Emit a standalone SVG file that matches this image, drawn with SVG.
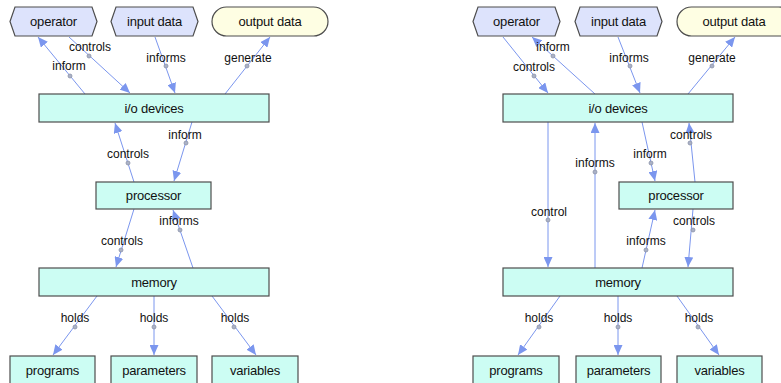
<svg xmlns="http://www.w3.org/2000/svg" width="781" height="383" viewBox="0 0 781 383">
  <style>
    text { font-family: "Liberation Sans", Arial, sans-serif; font-size: 12px; fill: #111; text-anchor: middle; }
    .node text { font-size: 13px; letter-spacing: -0.2px; }
    .box { fill: #ccfdf3; stroke: #4d4d4d; stroke-width: 1.2; }
    .hex { fill: #dde3fc; stroke: #4d4d4d; stroke-width: 1.2; }
    .out { fill: #fefee3; stroke: #4d4d4d; stroke-width: 1.2; }
    .edge { stroke: #7b96ee; stroke-width: 1; fill: none; marker-end: url(#arrow); }
    .dot { fill: #aab1c6; stroke: #8c93aa; stroke-width: 0.8; }
  </style>
  <defs>
    <marker id="arrow" markerUnits="userSpaceOnUse" markerWidth="11" markerHeight="9" refX="10" refY="4.5" orient="auto">
      <path d="M0,0 L10,4.5 L0,9 Z" fill="#7b96ee"/>
    </marker>
  </defs>

  <rect width="781" height="383" fill="#ffffff"/>

  <!-- connectors -->
  <g id="connectors">
    <!-- first layout -->
    <line class="edge" x1="85" y1="94" x2="38" y2="37"/>
    <line class="edge" x1="69" y1="37" x2="130" y2="93"/>
    <line class="edge" x1="155" y1="37" x2="175" y2="93"/>
    <line class="edge" x1="225" y1="94" x2="270" y2="37"/>
    <line class="edge" x1="134" y1="182" x2="115" y2="123"/>
    <line class="edge" x1="192" y1="122" x2="174" y2="181"/>
    <line class="edge" x1="134" y1="209" x2="116" y2="267"/>
    <line class="edge" x1="193" y1="268" x2="173" y2="210"/>
    <line class="edge" x1="97" y1="296" x2="53" y2="355"/>
    <line class="edge" x1="154" y1="296" x2="154" y2="355"/>
    <line class="edge" x1="212" y1="296" x2="256" y2="355"/>

    <!-- second layout -->
    <line class="edge" x1="503" y1="37" x2="548" y2="93"/>
    <line class="edge" x1="595" y1="94" x2="532" y2="37"/>
    <line class="edge" x1="618" y1="37" x2="640" y2="93"/>
    <line class="edge" x1="688" y1="94" x2="735" y2="37"/>
    <line class="edge" x1="548" y1="122" x2="548" y2="267"/>
    <line class="edge" x1="595" y1="268" x2="595" y2="123"/>
    <line class="edge" x1="642" y1="122" x2="655" y2="181"/>
    <line class="edge" x1="695" y1="182" x2="689" y2="123"/>
    <line class="edge" x1="642" y1="268" x2="655" y2="210"/>
    <line class="edge" x1="693" y1="209" x2="688" y2="267"/>
    <line class="edge" x1="560" y1="296" x2="518" y2="355"/>
    <line class="edge" x1="618" y1="296" x2="618" y2="355"/>
    <line class="edge" x1="677" y1="296" x2="719" y2="355"/>
  </g>

  <!-- connector labels -->
  <g id="edge-labels">
    <text x="69" y="70">inform</text><circle class="dot" cx="70" cy="76" r="2"/>
    <text x="90" y="51">controls</text><circle class="dot" cx="89" cy="56" r="2"/>
    <text x="166" y="62">informs</text><circle class="dot" cx="166" cy="66" r="2"/>
    <text x="248" y="62">generate</text><circle class="dot" cx="247" cy="66" r="2"/>
    <text x="128" y="158">controls</text><circle class="dot" cx="128" cy="163" r="2"/>
    <text x="185" y="139">inform</text><circle class="dot" cx="186" cy="143" r="2"/>
    <text x="179" y="225">informs</text><circle class="dot" cx="180" cy="230" r="2"/>
    <text x="122" y="245">controls</text><circle class="dot" cx="121" cy="250" r="2"/>
    <text x="75" y="322">holds</text><circle class="dot" cx="75" cy="327" r="2"/>
    <text x="154" y="322">holds</text><circle class="dot" cx="154" cy="327" r="2"/>
    <text x="235" y="322">holds</text><circle class="dot" cx="234" cy="327" r="2"/>

    <text x="553" y="51">inform</text><circle class="dot" cx="553" cy="56" r="2"/>
    <text x="534" y="71">controls</text><circle class="dot" cx="534" cy="76" r="2"/>
    <text x="629" y="62">informs</text><circle class="dot" cx="630" cy="66" r="2"/>
    <text x="712" y="62">generate</text><circle class="dot" cx="712" cy="66" r="2"/>
    <text x="691" y="139">controls</text><circle class="dot" cx="690" cy="143" r="2"/>
    <text x="650" y="158">inform</text><circle class="dot" cx="651" cy="163" r="2"/>
    <text x="595" y="167">informs</text><circle class="dot" cx="595" cy="172" r="2"/>
    <text x="549" y="216">control</text><circle class="dot" cx="548" cy="220" r="2"/>
    <text x="694" y="225">controls</text><circle class="dot" cx="693" cy="230" r="2"/>
    <text x="646" y="245">informs</text><circle class="dot" cx="646" cy="250" r="2"/>
    <text x="539" y="322">holds</text><circle class="dot" cx="539" cy="327" r="2"/>
    <text x="618" y="322">holds</text><circle class="dot" cx="618" cy="327" r="2"/>
    <text x="699" y="322">holds</text><circle class="dot" cx="698" cy="327" r="2"/>
  </g>

  <!-- first layout nodes -->
  <g id="operator-1" class="node">
    <polygon class="hex" points="15,7 92,7 97,21.5 92,36 15,36 10,21.5"/>
    <text x="53.5" y="26">operator</text>
  </g>
  <g id="input-data-1" class="node">
    <polygon class="hex" points="116,7 193,7 198,21.5 193,36 116,36 111,21.5"/>
    <text x="154.5" y="26">input data</text>
  </g>
  <g id="output-data-1" class="node">
    <rect class="out" x="212" y="7" width="116" height="29" rx="14.5"/>
    <text x="270" y="26">output data</text>
  </g>
  <g id="io-devices-1" class="node">
    <rect class="box" x="39" y="94" width="230" height="28"/>
    <text x="154" y="112.5">i/o devices</text>
  </g>
  <g id="processor-1" class="node">
    <rect class="box" x="96" y="182" width="115" height="27"/>
    <text x="153.5" y="200">processor</text>
  </g>
  <g id="memory-1" class="node">
    <rect class="box" x="39" y="268" width="230" height="28"/>
    <text x="154" y="286.5">memory</text>
  </g>
  <g id="programs-1" class="node">
    <rect class="box" x="10" y="356" width="85" height="32"/>
    <text x="52.5" y="374.5">programs</text>
  </g>
  <g id="parameters-1" class="node">
    <rect class="box" x="111" y="356" width="86" height="32"/>
    <text x="154" y="374.5">parameters</text>
  </g>
  <g id="variables-1" class="node">
    <rect class="box" x="212" y="356" width="86" height="32"/>
    <text x="255" y="374.5">variables</text>
  </g>

  <!-- second layout nodes -->
  <g id="operator-2" class="node">
    <polygon class="hex" points="478,7 555,7 560,21.5 555,36 478,36 473,21.5"/>
    <text x="516.5" y="26">operator</text>
  </g>
  <g id="input-data-2" class="node">
    <polygon class="hex" points="580,7 657,7 662,21.5 657,36 580,36 575,21.5"/>
    <text x="618.5" y="26">input data</text>
  </g>
  <g id="output-data-2" class="node">
    <rect class="out" x="677" y="7" width="116" height="29" rx="14.5"/>
    <text x="734" y="26">output data</text>
  </g>
  <g id="io-devices-2" class="node">
    <rect class="box" x="503" y="94" width="230" height="28"/>
    <text x="618" y="112.5">i/o devices</text>
  </g>
  <g id="processor-2" class="node">
    <rect class="box" x="619" y="182" width="114" height="27"/>
    <text x="676" y="200">processor</text>
  </g>
  <g id="memory-2" class="node">
    <rect class="box" x="503" y="268" width="230" height="28"/>
    <text x="618" y="286.5">memory</text>
  </g>
  <g id="programs-2" class="node">
    <rect class="box" x="473" y="356" width="86" height="32"/>
    <text x="516" y="374.5">programs</text>
  </g>
  <g id="parameters-2" class="node">
    <rect class="box" x="576" y="356" width="85" height="32"/>
    <text x="618.5" y="374.5">parameters</text>
  </g>
  <g id="variables-2" class="node">
    <rect class="box" x="677" y="356" width="85" height="32"/>
    <text x="719.5" y="374.5">variables</text>
  </g>
</svg>
